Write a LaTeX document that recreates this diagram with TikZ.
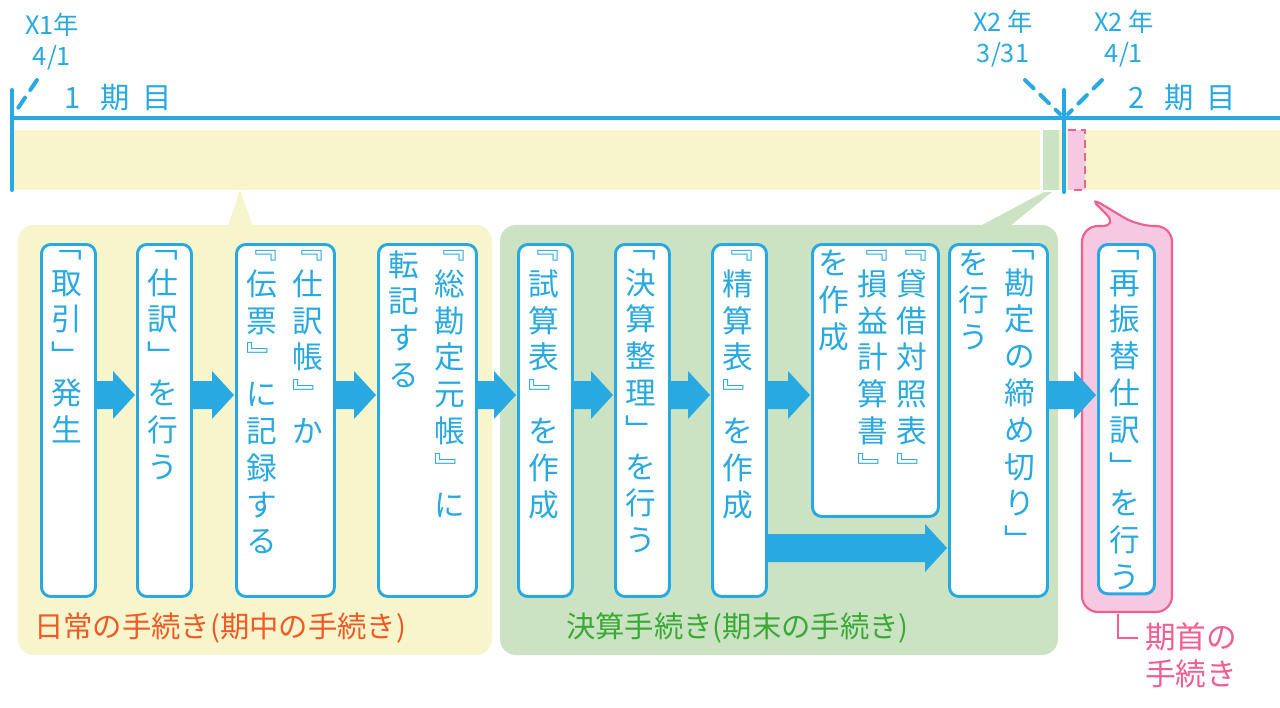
\documentclass[tikz,border=0pt]{standalone}
\usepackage{fontspec}
\newfontfamily\jp{Noto Sans CJK JP}
\usetikzlibrary{arrows.meta}
\definecolor{bl}{HTML}{29A9E1}
\definecolor{yl}{HTML}{F7F5CC}
\definecolor{gr}{HTML}{CBE3C2}
\definecolor{pk}{HTML}{F7C8E1}
\definecolor{pkd}{HTML}{F0608F}
\definecolor{orr}{HTML}{F15A24}
\definecolor{grt}{HTML}{3AA935}
\newcommand\vf{\jp\fontsize{23}{27.6}\selectfont}
\begin{document}
\begin{tikzpicture}[x=0.75pt,y=-0.75pt,
 box/.style={draw=bl,line width=2.2pt,fill=white,rounded corners=7pt},
 vt/.style={anchor=north,align=center,font=\vf,text=bl,inner sep=0pt},
 lab/.style={font=\jp\fontsize{19}{22}\selectfont,text=bl,inner sep=0pt},
 plab/.style={font=\jp\fontsize{22}{26}\selectfont,anchor=west,inner sep=0pt}]
\useasboundingbox (0,0) rectangle (1280,707);
% timeline
\fill[yl] (14,130) rectangle (1280,190);
\fill[white] (1040,130) rectangle (1043,190);
\fill[gr] (1043,130) rectangle (1059,190);
\fill[pk] (1068,130) rectangle (1085,190);
\draw[pkd,line width=1.5pt,dash pattern=on 6pt off 4pt] (1068,130) -- (1085,130) -- (1085,190) -- (1070,190);
\draw[bl,line width=2.5pt] (12,118) -- (1280,118);
\draw[bl,line width=3pt,line cap=round] (12,90) -- (12,190);
\draw[bl,line width=3pt,line cap=round] (1064,90) -- (1064,192);
\coordinate (d1) at (37,80); \coordinate (d2) at (1025,80); \coordinate (d3) at (1102,80);
\draw[bl,line width=3pt,line cap=round,dash pattern=on 9pt off 7pt] (d1) -- (14,114);
\draw[bl,line width=3pt,line cap=round,dash pattern=on 9pt off 7pt] (d2) -- (1060,114);
\draw[bl,line width=3pt,line cap=round,dash pattern=on 9pt off 7pt] (d3) -- (1068,114);
\node[lab] (a) at (52,25) {X1年};
\node[lab] (b) at (52,58) {4/1};
\node[lab,font=\jp\fontsize{22}{26}\selectfont] (c) at (118,98) {1\ \ \ 期\ \ 目};
\node[lab] (e) at (1003,22) {X2 年};
\node[lab] (f) at (1003,55) {3/31};
\node[lab] (g) at (1124,22) {X2 年};
\node[lab] (h) at (1124,55) {4/1};
\node[lab,font=\jp\fontsize{22}{26}\selectfont] (i) at (1182,98) {2\ \ \ 期\ \ 目};
% panels
\fill[yl,rounded corners=12pt] (18,225) rectangle (492,655);
\fill[yl] (228,226) -- (240,190) -- (253,226) -- cycle;
\fill[gr,rounded corners=12pt] (500,225) rectangle (1058,655);
\fill[gr] (980,226) -- (1044,192) -- (1052,192) -- (1010,226) -- cycle;
\draw[pkd,fill=pk,line width=1.6pt,rounded corners=12pt] (1118,226) -- (1082,226) -- (1082,612) -- (1172,612) -- (1172,226) -- (1138,226) -- (1088,196) -- cycle;
% boxes
\node[box,minimum width=40.5pt,minimum height=264pt,anchor=north west] (b1) at (40,243) {};
\node[box,minimum width=40.5pt,minimum height=264pt,anchor=north west] (b2) at (136,243) {};
\node[box,minimum width=73.5pt,minimum height=264pt,anchor=north west] (b3) at (235,243) {};
\node[box,minimum width=73.5pt,minimum height=264pt,anchor=north west] (b4) at (377,243) {};
\node[box,minimum width=40.5pt,minimum height=264pt,anchor=north west] (b5) at (517,243) {};
\node[box,minimum width=40.5pt,minimum height=264pt,anchor=north west] (b6) at (614,243) {};
\node[box,minimum width=40.5pt,minimum height=264pt,anchor=north west] (b7) at (711,243) {};
\node[box,minimum width=94.5pt,minimum height=204pt,anchor=north west] (b8) at (811,243) {};
\node[box,minimum width=73.5pt,minimum height=264pt,anchor=north west] (b9) at (948,243) {};
\node[box,minimum width=42pt,minimum height=262pt,anchor=north west] (b10) at (1097,243) {};
% texts
\node[vt] (t1) at (67,250) {﹁\\取\\引\\﹂\\発\\生};
\node[vt] (t2) at (163,250) {﹁\\仕\\訳\\﹂\\を\\行\\う};
\node[vt] (t3a) at (308,250) {﹃\\仕\\訳\\帳\\﹄\\か};
\node[vt] (t3b) at (262,250) {﹃\\伝\\票\\﹄\\に\\記\\録\\す\\る};
\node[vt] (t4a) at (450,250) {﹃\\総\\勘\\定\\元\\帳\\﹄\\に};
\node[vt] (t4b) at (404,250) {転\\記\\す\\る};
\node[vt] (t5) at (544,250) {﹃\\試\\算\\表\\﹄\\を\\作\\成};
\node[vt] (t6) at (641,250) {﹁\\決\\算\\整\\理\\﹂\\を\\行\\う};
\node[vt] (t7) at (738,250) {﹃\\精\\算\\表\\﹄\\を\\作\\成};
\node[vt] (t8a) at (912,250) {﹃\\貸\\借\\対\\照\\表\\﹄};
\node[vt] (t8b) at (873,250) {﹃\\損\\益\\計\\算\\書\\﹄};
\node[vt] (t8c) at (834,250) {を\\作\\成};
\node[vt] (t9a) at (1020,250) {﹁\\勘\\定\\の\\締\\め\\切\\り\\﹂};
\node[vt] (t9b) at (974,250) {を\\行\\う};
\node[vt] (t10) at (1125,250) {﹁\\再\\振\\替\\仕\\訳\\﹂\\を\\行\\う};
% arrows
\newcommand\barr[3]{\fill[bl] (#1,#3-14) -- (#2-22,#3-14) -- (#2-22,#3-24) -- (#2,#3) -- (#2-22,#3+24) -- (#2-22,#3+14) -- (#1,#3+14) -- cycle;}
\barr{95}{135}{395}
\barr{191}{234}{395}
\barr{334}{376}{395}
\barr{476}{516}{395}
\barr{572}{613}{395}
\barr{669}{710}{395}
\barr{766}{810}{395}
\barr{766}{947}{548}
\barr{1046}{1096}{395}
% panel labels
\node[plab,text=orr] (l1) at (34,628) {日常の手続き(期中の手続き)};
\node[plab,text=grt] (l2) at (566,628) {決算手続き(期末の手続き)};
\draw[pkd,line width=2pt] (1118,614) -- (1118,638) -- (1138,638);
\node[font=\jp\fontsize{23}{28}\selectfont,text=pkd,align=left,anchor=north west,inner sep=0pt] (l3) at (1145,622) {期首の\\手続き};
\end{tikzpicture}
\end{document}
